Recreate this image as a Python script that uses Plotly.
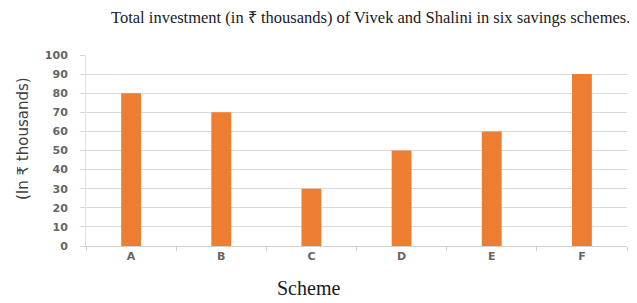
import plotly.graph_objects as go

schemes = ["A", "B", "C", "D", "E", "F"]
investment = [80, 70, 30, 50, 60, 90]
y_ticks = [0, 10, 20, 30, 40, 50, 60, 70, 80, 90, 100]

title_text = "Total investment (in ₹ thousands) of Vivek and Shalini in six savings schemes."
y_title = "(In ₹ thousands)"
x_title = "Scheme"

# page body has an 8px default margin, so the figure is shifted by 8px
OFF = 8
W, H = 637 - OFF, 303 - OFF
l, r, t, b = 86 - OFF, 10, 55 - OFF, 57
pw, ph = W - l - r, H - t - b

fig = go.Figure()
fig.add_trace(go.Bar(x=schemes, y=investment, marker=dict(color="#ED7D31", line=dict(width=0)),
                     width=0.22))

fig.update_layout(
    width=W, height=H,
    margin=dict(l=l, r=r, t=t, b=b, autoexpand=False),
    paper_bgcolor="white", plot_bgcolor="white",
    showlegend=False,
)
tick_font = dict(family="DejaVu Sans", size=11, color="#666666", weight="bold")
fig.update_xaxes(
    showline=True, linecolor="#d0d0d0", linewidth=1,
    ticks="outside", tickson="boundaries", ticklen=4, tickcolor="#d0d0d0",
    tickfont=tick_font,
    showgrid=False,
)
fig.update_yaxes(
    range=[0, 100], tickvals=y_ticks,
    showline=True, linecolor="#e0e0e0", linewidth=1,
    ticks="outside", ticklen=5, tickcolor="#d9d9d9",
    gridcolor="#d9d9d9", gridwidth=1,
    tickfont=tick_font,
    ticklabelstandoff=10,
    zeroline=False,
)

def add_text(text, px, py, font, angle=0, xanchor="center"):
    fig.add_annotation(text=text, x=(px - OFF - l) / pw, y=1 - (py - OFF - t) / ph,
                       xref="paper", yref="paper", xanchor=xanchor, yanchor="middle",
                       showarrow=False, textangle=angle, font=font)

add_text(title_text, 632, 17, dict(family="Liberation Serif", size=16.5, color="#1a1a1a"), xanchor="right")
add_text(x_title, 308, 288, dict(family="Liberation Serif", size=20, color="#1a1a1a"))
add_text(y_title, 23, 139, dict(family="DejaVu Sans", size=15, color="#404040"), angle=-90)

fig.write_html("out.html")
